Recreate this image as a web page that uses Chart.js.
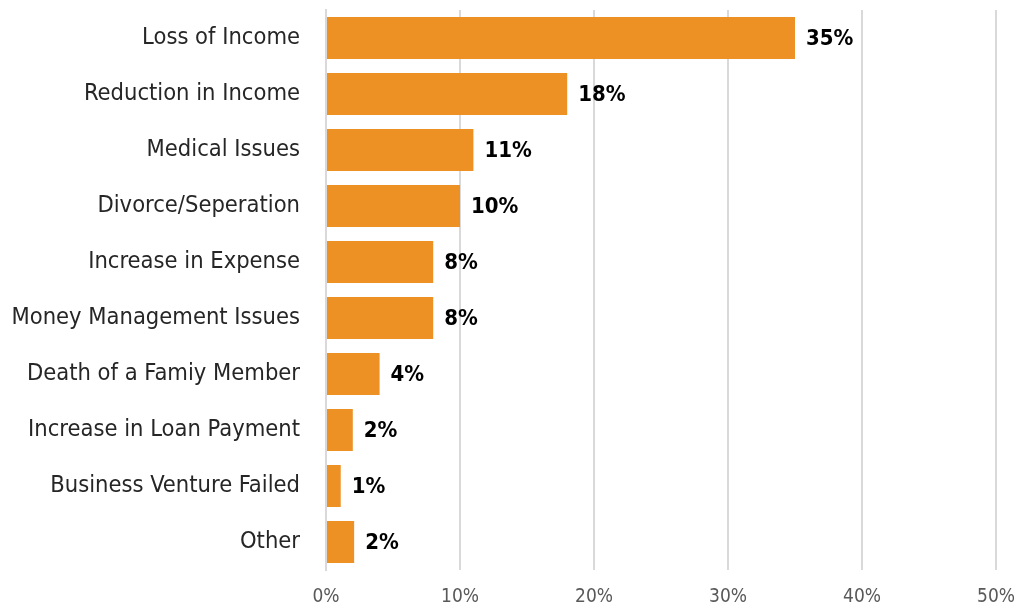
<!DOCTYPE html>
<html>
<head>
<meta charset="utf-8">
<script src="https://cdn.jsdelivr.net/npm/chart.js@4.4.0/dist/chart.umd.min.js"></script>
<style>
  html, body { margin: 0; padding: 0; background: #fff; }
  #wrap { width: 1020px; height: 610px; }
</style>
</head>
<body>
<div id="wrap"><canvas id="chart"></canvas></div>
<script>
// reasons, share of respondents (%)
var categories = [
  'Loss of Income', 'Reduction in Income', 'Medical Issues', 'Divorce/Seperation',
  'Increase in Expense', 'Money Management Issues', 'Death of a Famiy Member',
  'Increase in Loan Payment', 'Business Venture Failed', 'Other'
];
var values = [35, 18, 11, 10, 8, 8, 4, 2, 1.1, 2.1];
var xTicks = [0, 10, 20, 30, 40, 50];

var narrow = '"Liberation Sans Narrow", "DejaVu Sans Condensed", "Roboto", sans-serif';

// value labels drawn to the right of each bar
var barLabels = {
  id: 'barLabels',
  afterDatasetsDraw: function(chart) {
    var ctx = chart.ctx;
    var meta = chart.getDatasetMeta(0);
    ctx.save();
    ctx.font = 'bold 22px ' + narrow;
    ctx.fillStyle = '#000';
    ctx.textBaseline = 'middle';
    ctx.textAlign = 'left';
    meta.data.forEach(function(bar, i) {
      ctx.fillText(Math.round(values[i]) + '%', bar.x + 11, bar.y + 1);
    });
    ctx.restore();
  }
};

new Chart(document.getElementById('chart'), {
  type: 'bar',
  data: {
    labels: categories,
    datasets: [{
      data: values,
      backgroundColor: '#ed9125',
      borderWidth: 0,
      categoryPercentage: 0.75,
      barPercentage: 1
    }]
  },
  options: {
    indexAxis: 'y',
    responsive: true,
    maintainAspectRatio: false,
    animation: false,
    layout: { padding: { top: 10, right: 24, bottom: 0, left: 4 } },
    plugins: { legend: { display: false }, tooltip: { enabled: false } },
    scales: {
      x: {
        min: 0,
        max: 50,
        afterBuildTicks: function(axis) {
          axis.ticks = xTicks.map(function(v) { return { value: v }; });
        },
        afterFit: function(s) { s.height = 40; s.paddingLeft = 0; s.paddingRight = 0; },
        grid: { color: '#d9d9d9', lineWidth: 2, drawTicks: false },
        border: { display: false },
        ticks: {
          color: '#595959',
          padding: 16,
          font: { family: narrow, size: 19 },
          callback: function(v) { return v + '%'; }
        }
      },
      y: {
        afterFit: function(s) { s.width = 322; s.paddingTop = 0; s.paddingBottom = 0; },
        grid: { display: false, drawTicks: false },
        border: { display: true, color: '#d9d9d9', width: 2 },
        ticks: {
          color: '#262626',
          padding: 26,
          font: { family: narrow, size: 23.5 }
        }
      }
    }
  },
  plugins: [barLabels]
});
</script>
</body>
</html>
